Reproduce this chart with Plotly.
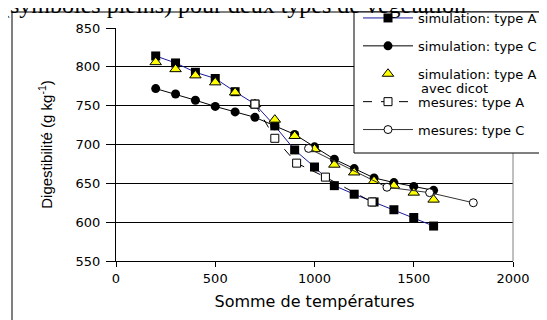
import plotly.graph_objects as go

# Data
simA_x = [200, 300, 400, 500, 600, 700, 800, 900, 1000, 1100, 1200, 1300, 1400, 1500, 1600]
simA_y = [814, 805, 793, 785, 768, 752, 724, 693, 671, 647, 636, 626, 616, 606, 595]

simC_x = [200, 300, 400, 500, 600, 700, 800, 900, 1000, 1100, 1200, 1300, 1400, 1500, 1600]
simC_y = [772, 765, 757, 749, 742, 735, 724, 713, 697, 681, 669, 657, 651, 646, 641]

simAC_x = [200, 300, 400, 500, 600, 700, 800, 900, 1000, 1100, 1200, 1300, 1400, 1500, 1600]
simAC_y = [806, 797, 789, 780, 767, 752, 732, 711, 694, 674, 664, 653, 647, 638, 629]

mesA_x = [700, 800, 910, 1055, 1290]
mesA_y = [752, 708, 676, 658, 626]

mesC_x = [970, 1365, 1580, 1800]
mesC_y = [695, 645, 638, 625]

x_ticks = [0, 500, 1000, 1500, 2000]
y_ticks = [550, 600, 650, 700, 750, 800, 850]

names = ["simulation: type A", "simulation: type C",
         "simulation: type A C", "mesures: type A", "mesures: type C"]
name3_cont = "avec dicot"

fig = go.Figure()
fig.add_trace(go.Scatter(x=simA_x, y=simA_y, name=names[0], mode="lines+markers",
                         line=dict(color="#1a1a9c", width=1),
                         marker=dict(symbol="square", size=9, color="black"),
                         legendgroup="a"))
fig.add_trace(go.Scatter(x=simC_x, y=simC_y, name=names[1], mode="lines+markers",
                         line=dict(color="black", width=1),
                         marker=dict(symbol="circle", size=9, color="black"),
                         legendgroup="b"))
fig.add_trace(go.Scatter(x=simAC_x, y=simAC_y, name=names[2], mode="markers",
                         marker=dict(symbol="triangle-up", size=10, color="#ffff00",
                                     line=dict(color="black", width=1)),
                         legendgroup="c"))
fig.add_trace(go.Scatter(x=mesA_x, y=mesA_y, name=names[3], mode="lines+markers",
                         line=dict(color="black", width=1, dash="dash"),
                         marker=dict(symbol="square", size=8, color="white",
                                     line=dict(color="black", width=1)),
                         legendgroup="d"))
fig.add_trace(go.Scatter(x=mesC_x, y=mesC_y, name=names[4], mode="lines+markers",
                         line=dict(color="#333333", width=1),
                         marker=dict(symbol="circle", size=8, color="white",
                                     line=dict(color="black", width=1)),
                         legendgroup="e"))

# page has an 8px body margin; work in page pixels
OFF = 8
L, R, T, B = 116, 513, 28, 261          # plot area in page pixels
W, H = 547 - OFF, 320 - OFF             # figure size
def px(p):
    return (p - L) / (R - L)
def py(p):
    return (B - p) / (B - T)

fig.update_layout(
    width=W, height=H,
    margin=dict(l=L - OFF, r=547 - R, t=T - OFF, b=320 - B, pad=0, autoexpand=False),
    paper_bgcolor="white", plot_bgcolor="white",
    showlegend=True,
    legend=dict(x=px(358), y=py(3), xanchor="left", yanchor="top",
                bgcolor="rgba(0,0,0,0)", borderwidth=0,
                font=dict(family="DejaVu Sans", size=13, color="black"),
                itemwidth=50, tracegroupgap=8, traceorder="grouped"),
    font=dict(family="DejaVu Sans", color="black"),
    xaxis=dict(range=[0, 2000], tickvals=x_ticks, ticks="outside", ticklen=5,
               tickcolor="black", showline=True, linecolor="black", linewidth=1,
               showgrid=False, zeroline=False, automargin=False,
               tickfont=dict(family="DejaVu Sans", size=13),
               title=dict(text="Somme de températures", font=dict(family="DejaVu Sans", size=16),
                          standoff=11)),
    yaxis=dict(range=[550, 850], tickvals=y_ticks, ticks="outside", ticklen=9,
               tickcolor="black", showline=True, linecolor="black", linewidth=1,
               showgrid=True, gridcolor="black", gridwidth=1, zeroline=False,
               automargin=False, ticklabelstandoff=3,
               tickfont=dict(family="DejaVu Sans", size=13),
               title=dict(text="Digestibilité (g kg<sup>-1</sup>)",
                          font=dict(family="Liberation Sans", size=15),
                          standoff=19)),
)

# outer chart border
fig.add_shape(type="rect", xref="paper", yref="paper",
              x0=px(12), y0=py(400), x1=px(700), y1=py(12),
              line=dict(color="black", width=1), fillcolor="rgba(0,0,0,0)", layer="above")
# right plot-area border
fig.add_shape(type="line", xref="paper", yref="paper",
              x0=1, x1=1, y0=0, y1=1, line=dict(color="#808080", width=1), layer="above")
# legend box
fig.add_shape(type="rect", xref="paper", yref="paper",
              x0=px(354), y0=py(153), x1=px(700), y1=py(12),
              line=dict(color="black", width=1), fillcolor="white", layer="above")

# second line of the third legend entry
fig.add_annotation(text=name3_cont, xref="paper", yref="paper", x=px(419), y=py(88),
                   xanchor="left", yanchor="middle", showarrow=False,
                   font=dict(family="DejaVu Sans", size=13, color="black"))

# partially visible caption at the top
fig.add_annotation(text="(symboles pleins) pour deux types de végétation",
                   xref="paper", yref="paper", x=px(0), y=py(20),
                   xanchor="left", yanchor="bottom", showarrow=False,
                   font=dict(family="Liberation Serif", size=24, color="black"))

fig.write_html("out.html")
